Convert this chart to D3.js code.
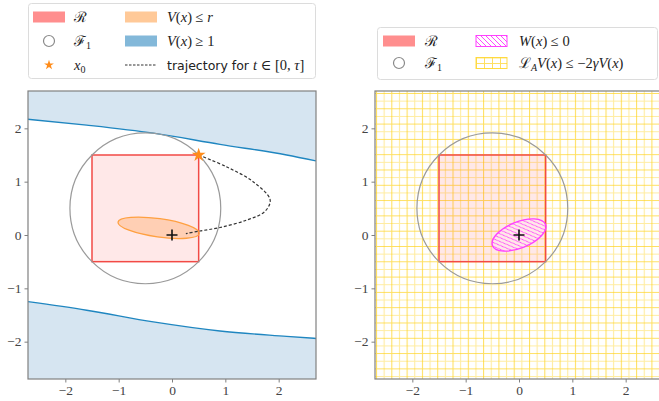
<!DOCTYPE html>
<html>
<head>
<meta charset="utf-8">
<script src="https://cdn.jsdelivr.net/npm/d3@7"></script>
<style>
  body { margin: 0; background: #fff; }
  svg { display: block; }
  text { font-family: "Liberation Serif", "DejaVu Serif", serif; fill: #222; }
</style>
</head>
<body>
<svg id="chart" width="659" height="401"></svg>
<script>
// ---- data ----
const axisDomain = [-2.7, 2.7];
const tickValues = [-2, -1, 0, 1, 2];

const regionX = [-1.5, 0.5];          // R box, x range
const regionY = [-0.5, 1.5];          // R box, y range
const f1Center = [-0.5, 0.5];
const f1Radius = 1.414;
const x0Point = [0.5, 1.5];
const equilibrium = [0, 0];

// V(x) <= r level set (ellipse: center, semi-axes, tilt in degrees)
const vrCenter = [-0.25, 0.135];
const vrAxes = [0.77, 0.172];
const vrTilt = -8;

// W(x) <= 0 level set
const wCenter = [0, 0];
const wAxes = [0.535, 0.245];
const wTilt = 22;

// V(x) = 1 boundary curves
const vOneUpper = [[-2.7, 2.17], [-1.6, 2.06], [-0.35, 1.91], [0.9, 1.70], [2.15, 1.50], [2.7, 1.39]];
const vOneLower = [[-2.7, -1.25], [-1.6, -1.41], [-0.35, -1.63], [0.9, -1.80], [2.15, -1.90], [2.7, -1.94]];

// trajectory for t in [0, tau]
const trajectory = [[0.5, 1.5], [1.02, 1.28], [1.52, 1.0], [1.84, 0.66], [1.74, 0.44],
                    [1.4, 0.28], [0.9, 0.14], [0.52, 0.075], [0.26, 0.025]];

// ---- layout ----
const svg = d3.select('#chart');
const size = 288;
const panels = [
  { left: 28, top: 91 },
  { left: 375, top: 91 }
];
const serif = '"Liberation Serif", "DejaVu Serif", serif';

const defs = svg.append('defs');

// magenta '\\' hatch
const hatchW = defs.append('pattern')
  .attr('id', 'hatchW').attr('patternUnits', 'userSpaceOnUse')
  .attr('width', 5).attr('height', 5);
hatchW.append('path')
  .attr('d', 'M0,0 L5,5 M-1,4 L1,6 M4,-1 L6,1')
  .attr('stroke', '#ff33ff').attr('stroke-width', 0.9);

// yellow '+' hatch (two strengths to mimic overlapping levels)
const grid = defs.append('pattern')
  .attr('id', 'gridL').attr('patternUnits', 'userSpaceOnUse')
  .attr('width', 15.3).attr('height', 15.3).attr('x', 375 + 1).attr('y', 91 + 2);
grid.append('path').attr('d', 'M0.5,0 V15.3 M0,0.5 H15.3')
  .attr('stroke', '#ffd21a').attr('stroke-opacity', 0.7).attr('stroke-width', 1.1);
grid.append('path').attr('d', 'M8.15,0 V15.3 M0,8.15 H15.3')
  .attr('stroke', '#ffd21a').attr('stroke-opacity', 0.42).attr('stroke-width', 1.1);

const gridLegend = defs.append('pattern')
  .attr('id', 'gridLegend').attr('patternUnits', 'userSpaceOnUse')
  .attr('width', 8).attr('height', 5.5).attr('x', 476).attr('y', 57.5);
gridLegend.append('path').attr('d', 'M0.5,0 V5.5 M0,0.5 H8')
  .attr('stroke', '#ffd21a').attr('stroke-opacity', 0.7).attr('stroke-width', 1);

function ellipseAttrs(sel, x, y, c, ax, tilt) {
  const cx = x(c[0]), cy = y(c[1]);
  sel.attr('cx', cx).attr('cy', cy)
    .attr('rx', x(ax[0]) - x(0))
    .attr('ry', y(0) - y(ax[1]))
    .attr('transform', `rotate(${-tilt},${cx},${cy})`);
}

function drawPlus(g, x, y) {
  const px = x(equilibrium[0]), py = y(equilibrium[1]);
  g.append('path')
    .attr('d', `M${px - 5.5},${py} H${px + 5.5} M${px},${py - 5.5} V${py + 5.5}`)
    .attr('stroke', '#111').attr('stroke-width', 1.6);
}

panels.forEach((p, i) => {
  const x = d3.scaleLinear().domain(axisDomain).range([p.left, p.left + size]);
  const y = d3.scaleLinear().domain(axisDomain).range([p.top + size, p.top]);

  defs.append('clipPath').attr('id', 'clip' + i)
    .append('rect').attr('x', p.left).attr('y', p.top).attr('width', size).attr('height', size);

  const g = svg.append('g').attr('clip-path', `url(#clip${i})`);

  if (i === 0) {
    // V(x) >= 1 regions
    const upperArea = d3.area().x(d => x(d[0])).y0(y(axisDomain[1])).y1(d => y(d[1])).curve(d3.curveMonotoneX);
    const lowerArea = d3.area().x(d => x(d[0])).y0(y(axisDomain[0])).y1(d => y(d[1])).curve(d3.curveMonotoneX);
    const edge = d3.line().x(d => x(d[0])).y(d => y(d[1])).curve(d3.curveMonotoneX);
    g.append('path').attr('d', upperArea(vOneUpper)).attr('fill', '#d6e5f1');
    g.append('path').attr('d', lowerArea(vOneLower)).attr('fill', '#d6e5f1');
    [vOneUpper, vOneLower].forEach(pts => {
      g.append('path').attr('d', edge(pts)).attr('fill', 'none')
        .attr('stroke', '#1f86c0').attr('stroke-width', 1.4);
    });
  } else {
    // L_A V(x) <= -2 gamma V(x): everywhere except the W ellipse
    const mask = defs.append('mask').attr('id', 'maskW');
    mask.append('rect').attr('x', p.left).attr('y', p.top).attr('width', size).attr('height', size).attr('fill', '#fff');
    ellipseAttrs(mask.append('ellipse').attr('fill', '#000'), x, y, wCenter, wAxes, wTilt);
    g.append('rect').attr('x', p.left).attr('y', p.top).attr('width', size).attr('height', size)
      .attr('fill', 'url(#gridL)').attr('mask', 'url(#maskW)');
  }

  // R box
  g.append('rect')
    .attr('x', x(regionX[0])).attr('y', y(regionY[1]))
    .attr('width', x(regionX[1]) - x(regionX[0]))
    .attr('height', y(regionY[0]) - y(regionY[1]))
    .attr('fill', 'rgba(255,0,0,0.09)')
    .attr('stroke', '#f24a45').attr('stroke-width', 1.5);

  // F1 circle
  g.append('circle')
    .attr('cx', x(f1Center[0])).attr('cy', y(f1Center[1]))
    .attr('r', x(f1Radius) - x(0))
    .attr('fill', 'none').attr('stroke', '#9a9a9a').attr('stroke-width', 1.2);

  if (i === 0) {
    const e = g.append('ellipse');
    ellipseAttrs(e, x, y, vrCenter, vrAxes, vrTilt);
    e.attr('fill', 'rgba(255,150,60,0.3)')
      .attr('stroke', '#ffa040').attr('stroke-width', 1.3);

    g.append('path')
      .attr('d', d3.line().x(d => x(d[0])).y(d => y(d[1])).curve(d3.curveCatmullRom)(trajectory))
      .attr('fill', 'none').attr('stroke', '#333').attr('stroke-width', 1.2)
      .attr('stroke-dasharray', '3,2');

    drawPlus(g, x, y);

    svg.append('path')
      .attr('d', d3.symbol(d3.symbolStar, 60)())
      .attr('transform', `translate(${x(x0Point[0])},${y(x0Point[1])})`)
      .attr('fill', '#ff8c1a');
  } else {
    const e = g.append('ellipse');
    ellipseAttrs(e, x, y, wCenter, wAxes, wTilt);
    e.attr('fill', 'url(#hatchW)').attr('stroke', '#ff40ff').attr('stroke-width', 1.4);
    drawPlus(g, x, y);
  }

  // frame + axes
  svg.append('rect')
    .attr('x', p.left).attr('y', p.top).attr('width', size).attr('height', size)
    .attr('fill', 'none').attr('stroke', '#808080').attr('stroke-width', 1.2);

  const fmt = d => d < 0 ? '\u2212' + (-d) : String(d);
  const ax = svg.append('g').attr('transform', `translate(0,${p.top + size})`)
    .call(d3.axisBottom(x).tickValues(tickValues).tickSize(3.5).tickPadding(3).tickFormat(fmt));
  const ay = svg.append('g').attr('transform', `translate(${p.left},0)`)
    .call(d3.axisLeft(y).tickValues(tickValues).tickSize(3.5).tickPadding(3).tickFormat(fmt));
  [ax, ay].forEach(a => {
    a.attr('font-family', null);
    a.select('.domain').remove();
    a.selectAll('line').attr('stroke', '#808080');
    a.selectAll('text').style('font-family', serif).style('font-size', '13.5px').style('fill', '#444');
  });
});

// ---- legends ----
function richText(g, tx, ty, parts) {
  const t = g.append('text').attr('x', tx).attr('y', ty).attr('dy', '0.35em')
    .style('font-family', serif).style('font-size', '14.5px');
  parts.forEach(pt => {
    const s = t.append('tspan').text(pt.t);
    if (pt.i) s.style('font-style', 'italic');
    if (pt.sub) s.attr('baseline-shift', '-25%').style('font-size', '10px');
    if (pt.sans) s.style('font-family', '"DejaVu Sans", sans-serif').style('font-size', '12.5px');
  });
}

function legendBox(g, x0, y0, w, h) {
  g.append('rect').attr('x', x0).attr('y', y0).attr('width', w).attr('height', h)
    .attr('rx', 3).attr('fill', '#fff').attr('stroke', '#dcdcdc').attr('stroke-width', 1);
}

const legL = svg.append('g');
legendBox(legL, 28.5, 3.5, 287, 75);
const rowsL = [17, 41, 65];
legL.append('rect').attr('x', 33).attr('y', rowsL[0] - 5.5).attr('width', 32).attr('height', 11).attr('fill', '#ff8e8e');
legL.append('circle').attr('cx', 49).attr('cy', rowsL[1]).attr('r', 5.5).attr('fill', 'none').attr('stroke', '#8a8a8a').attr('stroke-width', 1.2);
legL.append('path').attr('d', d3.symbol(d3.symbolStar, 30)()).attr('transform', `translate(49,${rowsL[2]})`).attr('fill', '#ff8c1a');
richText(legL, 74, rowsL[0], [{ t: '\u211B' }]);
richText(legL, 74, rowsL[1], [{ t: '\u2131' }, { t: '1', sub: true }]);
richText(legL, 74, rowsL[2], [{ t: 'x', i: true }, { t: '0', sub: true }]);
legL.append('rect').attr('x', 125).attr('y', rowsL[0] - 5.5).attr('width', 32).attr('height', 11).attr('fill', '#ffc998');
legL.append('rect').attr('x', 125).attr('y', rowsL[1] - 5.5).attr('width', 32).attr('height', 11).attr('fill', '#83b8d9');
legL.append('line').attr('x1', 125).attr('x2', 157).attr('y1', rowsL[2]).attr('y2', rowsL[2])
  .attr('stroke', '#333').attr('stroke-width', 1.1).attr('stroke-dasharray', '2.5,1.5');
richText(legL, 167, rowsL[0], [{ t: 'V', i: true }, { t: '(' }, { t: 'x', i: true }, { t: ') \u2264 ' }, { t: 'r', i: true }]);
richText(legL, 167, rowsL[1], [{ t: 'V', i: true }, { t: '(' }, { t: 'x', i: true }, { t: ') \u2265 1' }]);
richText(legL, 167, rowsL[2], [{ t: 'trajectory for ', sans: true }, { t: 't', i: true }, { t: ' \u2208 [0, ' }, { t: '\u03C4', i: true }, { t: ']' }]);

const legR = svg.append('g');
legendBox(legR, 377.5, 27.5, 280, 52);
const rowsR = [41, 63];
legR.append('rect').attr('x', 383).attr('y', rowsR[0] - 5.5).attr('width', 32).attr('height', 11).attr('fill', '#ff8e8e');
legR.append('circle').attr('cx', 399).attr('cy', rowsR[1]).attr('r', 5.5).attr('fill', 'none').attr('stroke', '#8a8a8a').attr('stroke-width', 1.2);
richText(legR, 425, rowsR[0], [{ t: '\u211B' }]);
richText(legR, 425, rowsR[1], [{ t: '\u2131' }, { t: '1', sub: true }]);
legR.append('rect').attr('x', 476).attr('y', rowsR[0] - 5.5).attr('width', 31).attr('height', 11)
  .attr('fill', 'url(#hatchW)').attr('stroke', '#ff40ff').attr('stroke-width', 1);
legR.append('rect').attr('x', 476).attr('y', rowsR[1] - 5.5).attr('width', 31).attr('height', 11)
  .attr('fill', 'url(#gridLegend)').attr('stroke', '#ffd21a').attr('stroke-opacity', 0.8).attr('stroke-width', 1);
richText(legR, 519, rowsR[0], [{ t: 'W', i: true }, { t: '(' }, { t: 'x', i: true }, { t: ') \u2264 0' }]);
richText(legR, 519, rowsR[1], [{ t: '\u2112' }, { t: 'A', i: true, sub: true }, { t: 'V', i: true }, { t: '(' }, { t: 'x', i: true },
  { t: ') \u2264 \u22122' }, { t: '\u03B3', i: true }, { t: 'V', i: true }, { t: '(' }, { t: 'x', i: true }, { t: ')' }]);
</script>
</body>
</html>
